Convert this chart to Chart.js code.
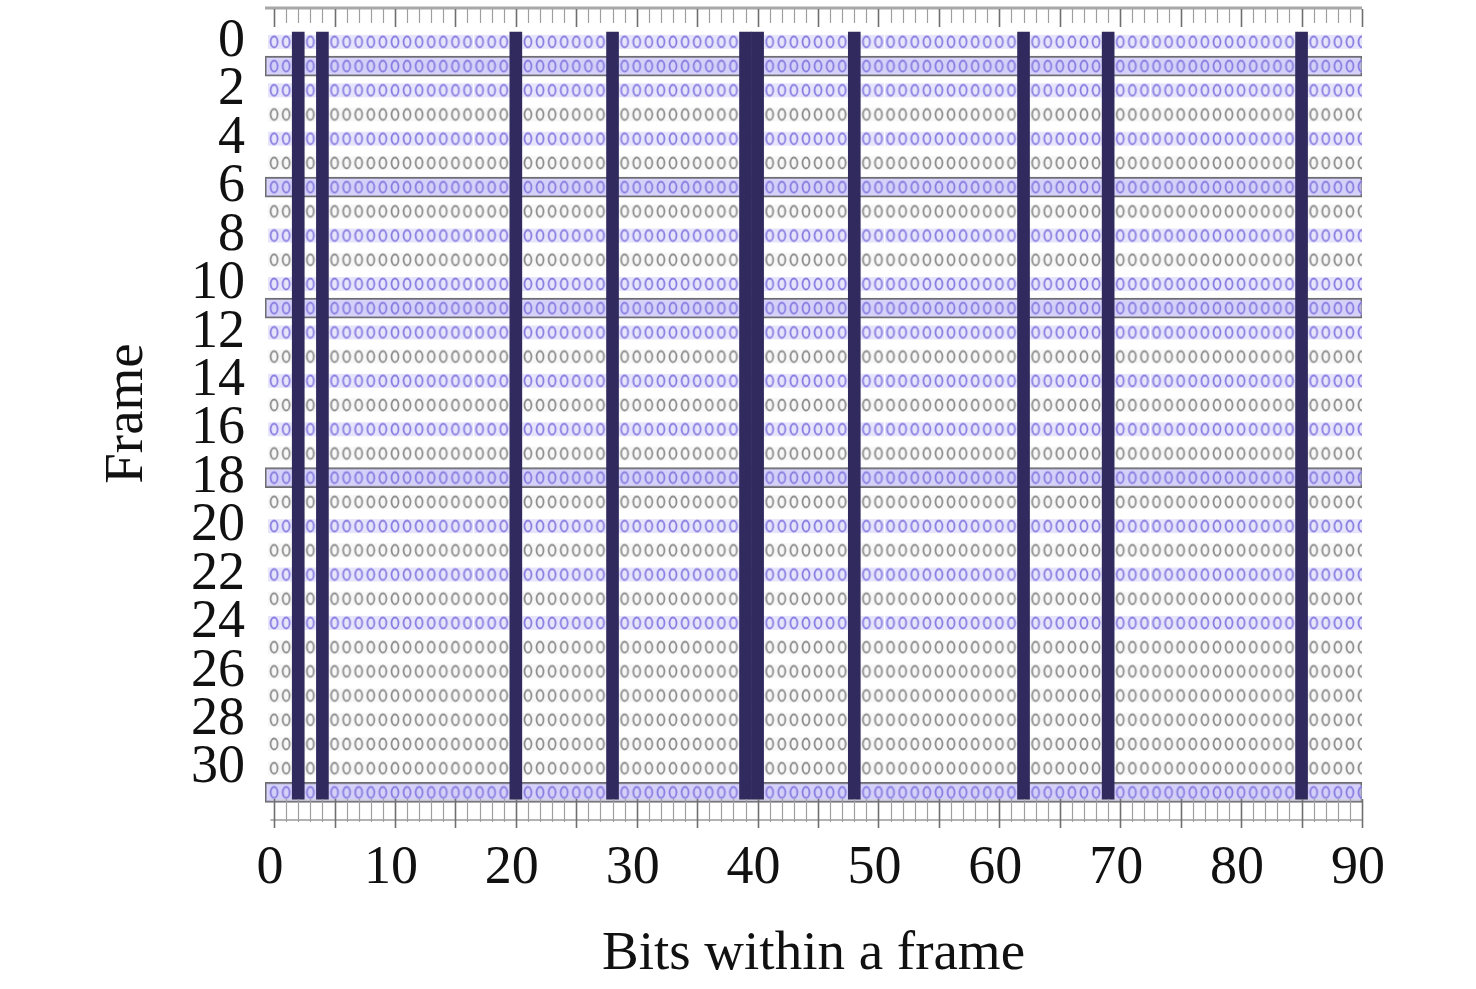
<!DOCTYPE html>
<html>
<head>
<meta charset="utf-8">
<script src="https://cdn.jsdelivr.net/npm/chart.js@4"></script>
<style>
  html, body { margin: 0; padding: 0; background: #ffffff; }
  #wrap { width: 1476px; height: 989px; position: relative; }
</style>
</head>
<body>
<div id="wrap"><canvas id="c" width="1476" height="989"></canvas></div>
<script>
// ---- data ----
const bits = Array.from({length: 91}, (_, i) => i);          // bit positions 0..90
const frames = Array.from({length: 32}, (_, i) => i);        // frames 0..31
const blueFrames = [0, 1, 2, 4, 6, 8, 10, 11, 12, 14, 16, 18, 20, 22, 24, 31];
const boxedFrames = [1, 6, 11, 18, 31];
const markedBits = [2, 4, 20, 28, 39, 40, 48, 62, 69, 85];
const xTickLabels = [0, 10, 20, 30, 40, 50, 60, 70, 80, 90];
const yTickLabels = [0, 2, 4, 6, 8, 10, 12, 14, 16, 18, 20, 22, 24, 26, 28, 30];
const barSpan = [-0.4, 31.3];
const boxSpan = [-0.75, 90];

// ---- point glyphs ----
function glyph(stroke, band) {
  const c = document.createElement('canvas');
  c.width = 12; c.height = 18;
  const g = c.getContext('2d');
  g.fillStyle = band; g.fillRect(0, 2, 12, 14);
  g.strokeStyle = stroke; g.lineWidth = 1.8;
  g.beginPath(); g.ellipse(6, 9, 3.5, 5.5, 0, 0, Math.PI * 2); g.stroke();
  return c;
}
const blueGlyph = glyph('rgb(135,125,225)', 'rgba(208,203,250,0.5)');
const grayGlyph = glyph('rgb(140,140,140)', 'rgba(235,235,235,0.35)');

const bluePts = [], grayPts = [];
frames.forEach(f => bits.forEach(b => {
  (blueFrames.includes(f) ? bluePts : grayPts).push({x: b, y: f});
}));

const FONT = 'Liberation Serif, Times New Roman, serif';

const axisMarks = {
  id: 'axisMarks',
  afterDraw(chart) {
    const {ctx, chartArea: a, scales: {x}} = chart;
    ctx.save();
    ctx.strokeStyle = '#a8a8a8'; ctx.lineWidth = 3;
    ctx.beginPath(); ctx.moveTo(a.left, a.top + 1); ctx.lineTo(a.right, a.top + 1); ctx.stroke();
    ctx.strokeStyle = '#9a9a9a'; ctx.lineWidth = 1.5;
    ctx.beginPath(); ctx.moveTo(x.getPixelForValue(-0.3), a.bottom); ctx.lineTo(a.right, a.bottom); ctx.stroke();
    ctx.strokeStyle = '#cfcfcf'; ctx.lineWidth = 1;
    ctx.beginPath(); ctx.moveTo(x.getPixelForValue(-0.3), a.bottom - 20); ctx.lineTo(a.right, a.bottom - 20); ctx.stroke();
    for (let v = 0; v <= 90; v++) {
      const px = Math.round(x.getPixelForValue(v)) + 0.5;
      const major = v % 5 === 0;
      ctx.strokeStyle = major ? '#6f6f6f' : '#9e9e9e';
      ctx.lineWidth = major ? 1.6 : 1.2;
      ctx.beginPath(); ctx.moveTo(px, a.top + 2); ctx.lineTo(px, a.top + (major ? 20 : 16)); ctx.stroke();
      ctx.beginPath(); ctx.moveTo(px, a.bottom - 21); ctx.lineTo(px, a.bottom + (major ? 8 : 2)); ctx.stroke();
    }
    ctx.restore();
  }
};

new Chart(document.getElementById('c'), {
  type: 'scatter',
  data: {
    datasets: [
      {
        type: 'bar', indexAxis: 'y', order: 4, grouped: false,
        data: boxedFrames.map(f => ({y: f, x: boxSpan})),
        backgroundColor: 'rgba(185,178,242,0.55)',
        borderColor: '#6e6e6e', borderWidth: 1.5, borderSkipped: false,
        barThickness: 20
      },
      {
        type: 'scatter', order: 3,
        data: grayPts, pointStyle: grayGlyph, pointRadius: 6
      },
      {
        type: 'scatter', order: 2,
        data: bluePts, pointStyle: blueGlyph, pointRadius: 6
      },
      {
        type: 'bar', order: 1, grouped: false,
        data: markedBits.map(b => ({x: b, y: barSpan})),
        backgroundColor: '#302a5e',
        borderWidth: 0,
        barThickness: 12
      }
    ]
  },
  options: {
    responsive: false,
    animation: false,
    events: [],
    layout: { padding: { left: 95, top: 5, right: 114, bottom: 0 } },
    plugins: { legend: { display: false }, tooltip: { enabled: false } },
    scales: {
      x: {
        type: 'linear', position: 'bottom', min: -0.75, max: 90,
        offset: false,
        afterBuildTicks(s) { s.ticks = xTickLabels.map(v => ({value: v})); },
        afterFit(s) { s.height = 169; s.paddingLeft = 0; s.paddingRight = 0; },
        grid: { display: false, drawTicks: false, offset: false },
        border: { display: false },
        ticks: { padding: 16, maxRotation: 0, autoSkip: false, color: '#111', labelOffset: -4,
                 font: { family: FONT, size: 54 } },
        title: { display: true, text: 'Bits within a frame', color: '#111',
                 padding: { top: 0, bottom: 1 }, font: { family: FONT, size: 55 } }
      },
      y: {
        type: 'linear', position: 'left', reverse: true, min: -1.44, max: 32.14,
        offset: false,
        afterBuildTicks(s) { s.ticks = yTickLabels.map(v => ({value: v})); },
        afterFit(s) { s.width = 170; s.paddingTop = 0; s.paddingBottom = 0; },
        grid: { display: false, drawTicks: false, offset: false },
        border: { display: false },
        ticks: { padding: 20, autoSkip: false, color: '#111',
                 font: { family: FONT, size: 54 } },
        title: { display: true, text: 'Frame', color: '#111',
                 padding: { top: 0, bottom: 0 }, font: { family: FONT, size: 55 } }
      }
    }
  },
  plugins: [axisMarks]
});
</script>
</body>
</html>
